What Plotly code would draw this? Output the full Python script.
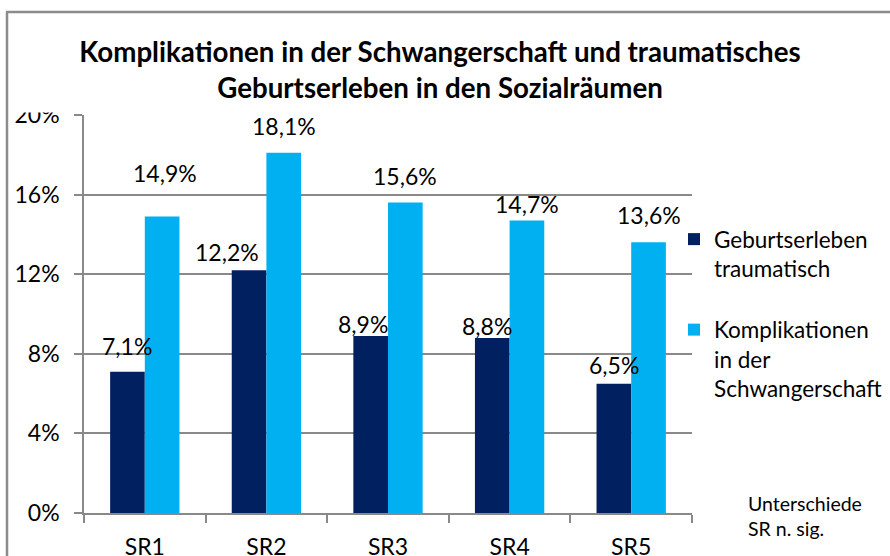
import plotly.graph_objects as go

categories = ["SR1", "SR2", "SR3", "SR4", "SR5"]
geburt_traumatisch = [7.1, 12.2, 8.9, 8.8, 6.5]
komplikationen = [14.9, 18.1, 15.6, 14.7, 13.6]
series_names = ["Geburtserleben<br>traumatisch", "Komplikationen<br>in der<br>Schwangerschaft"]
y_ticks = [0, 4, 8, 12, 16, 20]
y_tick_labels = ["0%", "4%", "8%", "12%", "16%", "20%"]

# label offsets (pixels) as placed in the original chart
dark_label_dy = [26, 18, 12, 12, 19]
dark_label_dx = [0, -22, -8, -5, 0]
light_label_dy = [43, 27, 27, 16, 27]
light_label_dx = [3, 0, 0, 0, 0]

DARK = "#002060"
LIGHT = "#00B0F0"
GRID = "#898989"
FONT = "Lato"
BARGAP = 0.43

W, H = 890, 556
ML, MR, MT, MB = 84, 198, 115, 43
PW, PH = W - ML - MR, H - MT - MB


def px_x(p):
    return (p - ML) / PW


def px_y(q):
    return (H - MB - q) / PH


fig = go.Figure()
fig.add_trace(go.Bar(x=categories, y=geburt_traumatisch, name=series_names[0],
                     marker=dict(color=DARK, line=dict(width=0)), legendgroup="a"))
fig.add_trace(go.Bar(x=categories, y=komplikationen, name=series_names[1],
                     marker=dict(color=LIGHT, line=dict(width=0)), legendgroup="b"))

bw = (1 - BARGAP) / 2
annotations = []
for i, v in enumerate(geburt_traumatisch):
    annotations.append(dict(x=i - bw / 2, y=v, xref="x", yref="y",
                            text=f"{v:.1f}".replace(".", ",") + "%", showarrow=False,
                            yanchor="middle", xanchor="center",
                            xshift=dark_label_dx[i], yshift=dark_label_dy[i],
                            font=dict(family=FONT, size=23, color="#000000")))
for i, v in enumerate(komplikationen):
    annotations.append(dict(x=i + bw / 2, y=v, xref="x", yref="y",
                            text=f"{v:.1f}".replace(".", ",") + "%", showarrow=False,
                            yanchor="middle", xanchor="center",
                            xshift=light_label_dx[i], yshift=light_label_dy[i],
                            font=dict(family=FONT, size=23, color="#000000")))
annotations.append(dict(x=px_x(746), y=px_y(516), xref="paper", yref="paper",
                        text="Unterschiede<br>SR n. sig.", showarrow=False,
                        xanchor="left", yanchor="middle", align="left",
                        font=dict(family=FONT, size=19.5, color="#000000")))

shapes = [
    # outer chart frame (top and left edges visible)
    dict(type="line", xref="paper", yref="paper", x0=px_x(7), x1=px_x(7), y0=px_y(12), y1=px_y(600),
         line=dict(color="#8c8c8c", width=2.5)),
    dict(type="line", xref="paper", yref="paper", x0=px_x(6), x1=px_x(900), y0=px_y(12), y1=px_y(12),
         line=dict(color="#8c8c8c", width=2.5)),
    # title box partially covering the top tick label
    dict(type="rect", xref="paper", yref="paper", x0=px_x(12), x1=px_x(76), y0=px_y(90), y1=px_y(112.5),
         fillcolor="white", line=dict(width=0), layer="above"),
]

fig.update_layout(
    width=W, height=H,
    margin=dict(l=ML, r=MR, t=MT, b=MB, autoexpand=False),
    paper_bgcolor="white", plot_bgcolor="white",
    barmode="group", bargap=BARGAP, bargroupgap=0,
    font=dict(family=FONT, color="#000000"),
    title=dict(text="Komplikationen in der Schwangerschaft und traumatisches<br>Geburtserleben in den Sozialräumen",
               x=440 / W, xanchor="center", y=1 - 62 / H, yanchor="middle", yref="container",
               font=dict(family=FONT, size=27.7, color="#000000", weight="bold")),
    xaxis=dict(type="category", tickson="boundaries", ticks="outside", ticklen=8, tickcolor=GRID,
               tickwidth=1.5, showline=True, linecolor=GRID, linewidth=1.5, showgrid=False,
               tickfont=dict(family=FONT, size=23), ticklabelstandoff=13, automargin=False),
    yaxis=dict(range=[0, 20], tickvals=y_ticks, ticktext=y_tick_labels, ticks="outside", ticklen=8,
               tickcolor=GRID, tickwidth=1.5, showline=True, linecolor=GRID, linewidth=1.5,
               showgrid=True, gridcolor=GRID, gridwidth=1.5, zeroline=False,
               tickfont=dict(family=FONT, size=23), ticklabelstandoff=10, automargin=False),
    legend=dict(x=px_x(674), y=px_y(218), xanchor="left", yanchor="top", valign="top",
                traceorder="grouped", tracegroupgap=29,
                font=dict(family=FONT, size=22.5, color="#000000"), bgcolor="rgba(0,0,0,0)"),
    annotations=annotations,
    shapes=shapes,
    showlegend=True,
    hovermode=False,
)

fig.write_html("out.html", config={"displayModeBar": False},
               post_script="document.body.style.margin='0';")
